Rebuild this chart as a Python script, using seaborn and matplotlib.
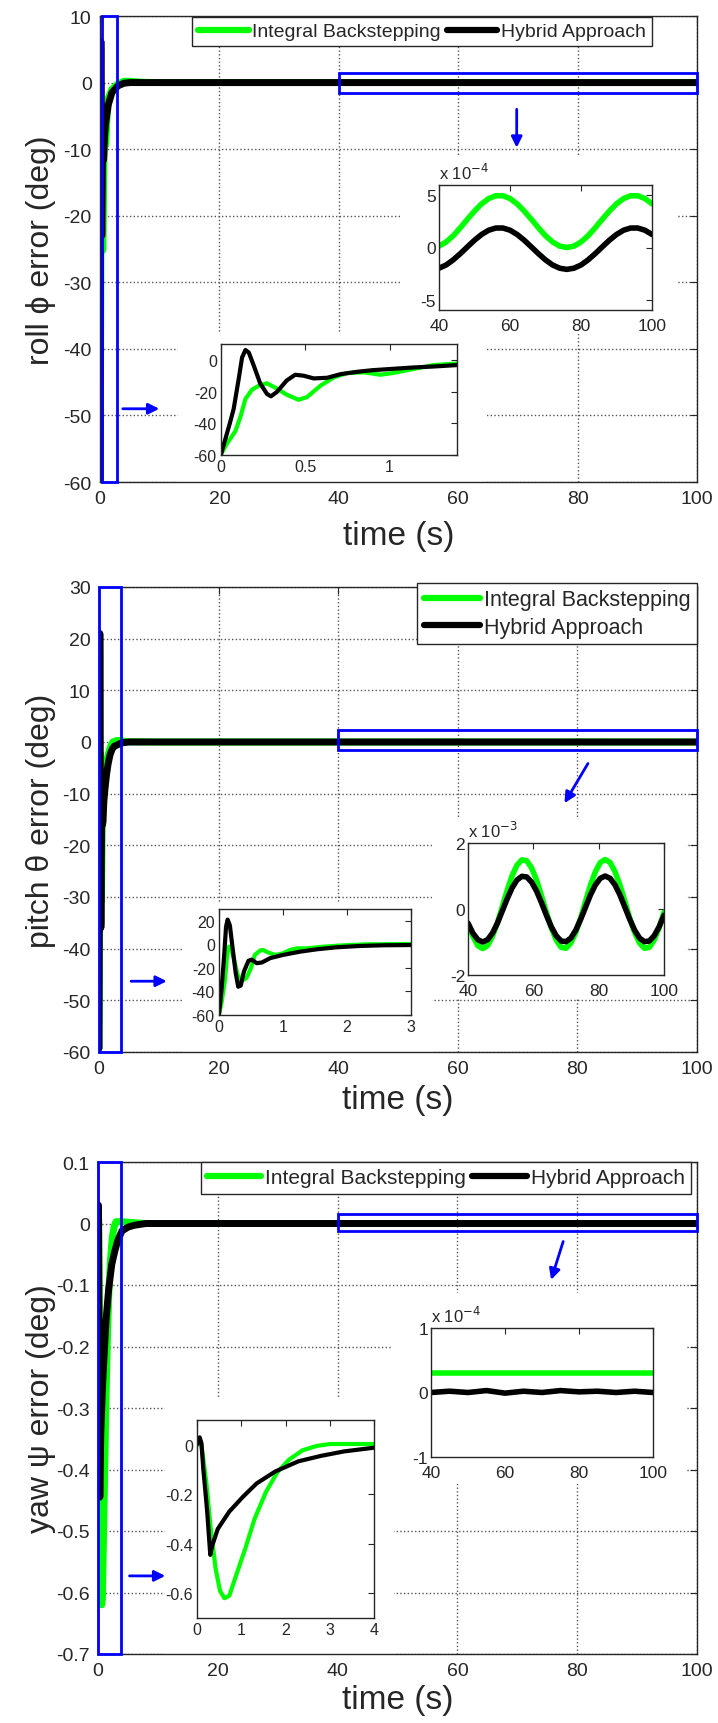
import numpy as np
import seaborn as sns
import matplotlib.pyplot as plt
from matplotlib.lines import Line2D
from matplotlib.patches import Rectangle
from matplotlib.ticker import FuncFormatter

# ---------------- data ----------------
labels = ["Integral Backstepping", "Hybrid Approach"]
colors = ["#00ff00", "black"]

# roll, transient (deg)
roll_ib_t = [0, 0.036, 0.085, 0.115, 0.145, 0.184, 0.233, 0.273, 0.33, 0.39, 0.46, 0.51,
             0.59, 0.67, 0.75, 0.85, 0.945, 1.02, 1.14, 1.26, 1.4]
roll_ib = [-59.6, -52.7, -45, -36, -24.6, -18.8, -15.8, -14.8, -18, -22, -25.2, -23.5,
           -16.3, -11, -8.3, -7.9, -9.4, -8.3, -5.8, -3.3, -2.3]
roll_hy_t = [0, 0.055, 0.075, 0.105, 0.125, 0.145, 0.165, 0.195, 0.233, 0.273, 0.296, 0.33,
             0.39, 0.44, 0.49, 0.55, 0.63, 0.71, 0.81, 0.9, 1.0, 1.14, 1.26, 1.4]
roll_hy = [-59.6, -39, -31, -12, 1.5, 6.2, 4.6, -3.8, -15, -21.5, -23, -20.4,
           -13, -9.4, -10, -11.7, -11.3, -9, -7.5, -6.5, -5.8, -4.8, -4.2, -3.3]
# roll, settling
roll_ib_settle_t = [2, 3, 4, 5, 7, 10, 20, 30]
roll_ib_settle = [-1.0, -0.2, 0.2, 0.2, 0.05, 0, 0, 0]
roll_hy_settle_t = [2, 3, 4, 5, 10, 20, 30]
roll_hy_settle = [-1.5, -0.5, -0.1, 0, 0, 0, 0]
# roll, 40-100 s (x 1e-4)
roll_tail_t = [40, 42, 44, 46, 48, 50, 52, 54, 56, 58, 60, 62, 64, 66, 68, 70,
               72, 74, 76, 78, 80, 82, 84, 86, 88, 90, 92, 94, 96, 98, 100]
roll_ib_tail = [0.13, 0.53, 1.13, 1.89, 2.71, 3.50, 4.19, 4.70, 4.97, 4.97, 4.70, 4.19, 3.50,
                2.71, 1.89, 1.13, 0.53, 0.13, 0.0, 0.13, 0.53, 1.13, 1.89, 2.71, 3.50,
                4.19, 4.70, 4.97, 4.97, 4.70, 4.19]
roll_hy_tail = [-1.99, -1.68, -1.19, -0.59, 0.06, 0.70, 1.25, 1.66, 1.87, 1.87, 1.66, 1.25,
                0.70, 0.06, -0.59, -1.19, -1.68, -1.99, -2.1, -1.99, -1.68, -1.19, -0.59,
                0.06, 0.70, 1.25, 1.66, 1.87, 1.87, 1.66, 1.25]

# pitch, transient (deg)
pitch_ib_t = [0, 0.04, 0.094, 0.13, 0.156, 0.19, 0.235, 0.29, 0.355, 0.43, 0.5, 0.56, 0.64,
              0.69, 0.77, 0.88, 1.0, 1.11, 1.22, 1.37, 1.63, 1.95, 2.31, 3.0]
pitch_ib = [-59.3, -49.5, -30, -7.5, -2, -3.4, -13, -25.7, -31, -28.5, -20, -9, -5.3,
            -4.8, -7, -9, -7.6, -4.8, -3.4, -3.4, -2, -0.8, 0, 0.3]
pitch_hy_t = [0, 0.04, 0.08, 0.11, 0.135, 0.17, 0.21, 0.26, 0.3, 0.34, 0.39, 0.46, 0.51,
              0.59, 0.67, 0.8, 1.0, 1.27, 1.53, 1.84, 2.2, 2.57, 3.0]
pitch_hy = [-59.3, -38, -10, 15, 21, 16, -2, -24, -36, -35, -23, -14, -13,
            -16, -15.4, -11.7, -9, -6.2, -4.2, -2.5, -1.4, -0.8, -0.6]
pitch_ib_settle_t = [3.5, 4, 5, 10, 20, 30]
pitch_ib_settle = [0.3, 0.2, 0.05, 0, 0, 0]
pitch_hy_settle_t = [3.5, 4, 5, 10, 20, 30]
pitch_hy_settle = [-0.3, -0.15, 0, 0, 0, 0]
# pitch, 40-100 s (x 1e-3)
pitch_tail_t = [40, 41.5, 43, 44.5, 46, 47.5, 49, 50.5, 52, 53.5, 55, 56.5, 58, 59.5, 61,
                62.5, 64, 65.5, 67, 68.5, 70, 71.5, 73, 74.5, 76, 77.5, 79, 80.5, 82, 83.5,
                85, 86.5, 88, 89.5, 91, 92.5, 94, 95.5, 97, 98.5, 100]
pitch_ib_tail = [-0.43, -0.83, -1.11, -1.2, -1.11, -0.83, -0.42, 0.07, 0.57, 1.01, 1.33, 1.49,
                 1.46, 1.24, 0.87, 0.40, -0.10, -0.57, -0.94, -1.16, -1.19, -1.03, -0.71,
                 -0.27, 0.24, 0.73, 1.13, 1.41, 1.5, 1.41, 1.13, 0.73, 0.24, -0.27, -0.71,
                 -1.03, -1.19, -1.16, -0.94, -0.57, -0.10]
pitch_hy_tail = [-0.43, -0.73, -0.93, -1.0, -0.93, -0.73, -0.43, -0.06, 0.31, 0.64, 0.88, 0.99,
                 0.97, 0.81, 0.54, 0.19, -0.19, -0.54, -0.81, -0.97, -0.99, -0.88, -0.64,
                 -0.31, 0.06, 0.43, 0.73, 0.93, 1.0, 0.93, 0.73, 0.43, 0.06, -0.31, -0.64,
                 -0.88, -0.99, -0.97, -0.81, -0.54, -0.19]

# yaw, transient (deg)
yaw_ib_t = [0, 0.06, 0.1, 0.21, 0.31, 0.42, 0.52, 0.62, 0.73, 0.88, 1.09, 1.3, 1.56, 1.82,
            2.08, 2.39, 2.7, 3.0, 4.0]
yaw_ib = [0, 0.022, 0, -0.15, -0.34, -0.5, -0.59, -0.62, -0.61, -0.53, -0.42, -0.30, -0.19,
          -0.11, -0.06, -0.022, -0.005, 0.003, 0.003]
yaw_hy_t = [0, 0.06, 0.1, 0.145, 0.19, 0.23, 0.27, 0.3, 0.34, 0.47, 0.73, 1.04, 1.35, 1.77,
            2.29, 2.8, 3.32, 4.0]
yaw_hy = [0, 0.03, 0.007, -0.104, -0.19, -0.27, -0.37, -0.445, -0.41, -0.34, -0.27, -0.21,
          -0.156, -0.108, -0.067, -0.045, -0.027, -0.012]
yaw_ib_settle_t = [5, 8, 10, 20, 30]
yaw_ib_settle = [0.002, 0, 0, 0, 0]
yaw_hy_settle_t = [5, 6, 8, 10, 20, 30]
yaw_hy_settle = [-0.006, -0.003, 0, 0, 0, 0]
# yaw, 40-100 s (x 1e-4)
yaw_tail_t = [40, 45, 50, 55, 60, 65, 70, 75, 80, 85, 90, 95, 100]
yaw_ib_tail = [0.3, 0.3, 0.3, 0.3, 0.3, 0.3, 0.3, 0.3, 0.3, 0.3, 0.3, 0.3, 0.3]
yaw_hy_tail = [0.0, 0.02, 0.0, 0.03, -0.01, 0.02, 0.0, 0.03, 0.01, 0.02, 0.0, 0.02, 0.0]

# ---------------- style ----------------
sns.set_style("white")
plt.rcParams["font.family"] = ["Liberation Sans", "DejaVu Sans"]
plt.rcParams["axes.unicode_minus"] = False
plt.rcParams["axes.axisbelow"] = True

W, H = 718, 1724
fig = plt.figure(figsize=(W / 100, H / 100), dpi=100)


def fbox(l, t, r, b):
    return [l / W, 1 - b / H, (r - l) / W, (b - t) / H]


def fmt(v, pos):
    if abs(v) < 1e-9:
        v = 0.0
    return f"{v:g}"


gfmt = FuncFormatter(fmt)


def style_axes(ax, size):
    for s in ax.spines.values():
        s.set_color("#262626")
        s.set_linewidth(1)
        s.set_visible(True)
    ax.tick_params(direction="in", top=True, right=True, length=5, width=0.8,
                   labelsize=size, colors="#262626", pad=5)
    ax.xaxis.set_major_formatter(gfmt)
    ax.yaxis.set_major_formatter(gfmt)


panels = [
    dict(fast=[(roll_ib_t, roll_ib), (roll_hy_t, roll_hy)],
         settle=[(roll_ib_settle_t, roll_ib_settle), (roll_hy_settle_t, roll_hy_settle)],
         tail=(roll_tail_t, [roll_ib_tail, roll_hy_tail]), scale=1e-4, exp="-4",
         box=(100, 17, 697, 483), ylim=(-60, 10), yticks=np.arange(-60, 11, 10),
         ylabel="roll ϕ error (deg)", xl_off=53,
         zoom_box=(221, 345, 457, 456), zoom_xlim=(0, 1.4), zoom_ylim=(-60, 10),
         zoom_xt=[0, 0.5, 1], zoom_yt=[-60, -40, -20, 0],
         ss_box=(439, 186, 652, 311), ss_ylim=(-6, 6), ss_yt=[-5, 0, 5],
         patches=[(178, 333, 487, 483), (400, 157, 678, 335)],
         rect1=(0.3, 2.85), rect2=(-1.6, 1.5),
         arrows=[((69.8, -3.6), (69.8, -10.2)), ((3.35, -49), (10.4, -49))],
         leg=dict(ncol=2, anchor=(652, 18), size=14, spacing=0.5)),
    dict(fast=[(pitch_ib_t, pitch_ib), (pitch_hy_t, pitch_hy)],
         settle=[(pitch_ib_settle_t, pitch_ib_settle), (pitch_hy_settle_t, pitch_hy_settle)],
         tail=(pitch_tail_t, [pitch_ib_tail, pitch_hy_tail]), scale=1e-3, exp="-3",
         box=(99, 588, 697, 1053), ylim=(-60, 30), yticks=np.arange(-60, 31, 10),
         ylabel="pitch θ error (deg)", xl_off=48,
         zoom_box=(219, 910, 411, 1016), zoom_xlim=(0, 3), zoom_ylim=(-60, 30),
         zoom_xt=[0, 1, 2, 3], zoom_yt=[-60, -40, -20, 0, 20],
         ss_box=(468, 844, 664, 976), ss_ylim=(-2, 2), ss_yt=[-2, 0, 2],
         patches=[(183, 903, 432, 1053), (432, 818, 686, 1000)],
         rect1=(0.0, 3.6), rect2=(-1.55, 2.4),
         arrows=[((82, -3.7), (77.6, -12.3)), ((4.9, -46.3), (11.8, -46.3))],
         leg=dict(ncol=1, anchor=(697, 584), size=15.5, spacing=0.3)),
    dict(fast=[(yaw_ib_t, yaw_ib), (yaw_hy_t, yaw_hy)],
         settle=[(yaw_ib_settle_t, yaw_ib_settle), (yaw_hy_settle_t, yaw_hy_settle)],
         tail=(yaw_tail_t, [yaw_ib_tail, yaw_hy_tail]), scale=1e-4, exp="-4",
         box=(98, 1163, 697, 1655), ylim=(-0.7, 0.1),
         yticks=[-0.7, -0.6, -0.5, -0.4, -0.3, -0.2, -0.1, 0, 0.1],
         ylabel="yaw ψ error (deg)", xl_off=46,
         zoom_box=(197, 1421, 374, 1619), zoom_xlim=(0, 4), zoom_ylim=(-0.7, 0.1),
         zoom_xt=[0, 1, 2, 3, 4], zoom_yt=[-0.6, -0.4, -0.2, 0],
         ss_box=(431, 1329, 653, 1458), ss_ylim=(-1, 1), ss_yt=[-1, 0, 1],
         patches=[(165, 1399, 394, 1655), (391, 1294, 686, 1485)],
         rect1=(0.0, 3.9), rect2=(-0.0123, 0.0155),
         arrows=[((77.8, -0.025), (75.5, -0.096)), ((4.8, -0.573), (11.7, -0.573))],
         leg=dict(ncol=2, anchor=(691, 1163), size=15, spacing=0.5)),
]

for p in panels:
    # full series = transient + settling + steady tail
    series = []
    tail_t, tail_vals = p["tail"]
    for k in range(2):
        t = list(p["fast"][k][0]) + list(p["settle"][k][0]) + list(tail_t)
        v = list(p["fast"][k][1]) + list(p["settle"][k][1]) + [x * p["scale"] for x in tail_vals[k]]
        series.append((t, v))

    ax = fig.add_axes(fbox(*p["box"]))
    for k in range(2):
        sns.lineplot(x=series[k][0], y=series[k][1], ax=ax, color=colors[k], lw=5,
                     errorbar=None, zorder=2)
    ax.set_xlim(0, 100)
    ax.set_ylim(*p["ylim"])
    ax.set_xticks(np.arange(0, 101, 20))
    ax.set_yticks(p["yticks"])
    style_axes(ax, 14)
    ax.tick_params(pad=6)
    ax.grid(True, ls=":", color="#555555", lw=1)

    # white areas behind the insets hide the grid
    for (l, t, r, b) in p["patches"]:
        ax.add_patch(Rectangle((l / W, 1 - b / H), (r - l) / W, (b - t) / H,
                               transform=fig.transFigure, facecolor="white",
                               edgecolor="none", zorder=1))

    # blue zoom boxes
    y0, y1 = p["ylim"]
    x0, x1 = p["rect1"]
    ax.add_patch(Rectangle((x0, y0), x1 - x0, y1 - y0, fill=False, edgecolor="blue",
                           lw=2, zorder=6, clip_on=False))
    r0, r1 = p["rect2"]
    ax.add_patch(Rectangle((40, r0), 60, r1 - r0, fill=False, edgecolor="blue",
                           lw=2, zorder=6, clip_on=False))
    for (a, b) in p["arrows"]:
        ax.annotate("", xy=b, xytext=a,
                    arrowprops=dict(arrowstyle="-|>", color="blue", lw=2, mutation_scale=16))

    ax.set_xlabel("time (s)", fontsize=24)
    ax.xaxis.set_label_coords(0.5, -p["xl_off"] / (p["box"][3] - p["box"][1]))
    ax.xaxis.label.set_va("center")
    ax.set_ylabel(p["ylabel"], fontsize=23)
    ax.yaxis.set_label_coords(-(p["box"][0] - 41) / (p["box"][2] - p["box"][0]), 0.5)
    ax.yaxis.label.set_va("center")

    handles = [Line2D([0], [0], color=c, lw=4.5) for c in colors]
    ax_, ay_ = p["leg"]["anchor"]
    leg = ax.legend(handles, labels, ncol=p["leg"]["ncol"], loc="upper right",
                    bbox_to_anchor=(ax_ / W, 1 - ay_ / H), bbox_transform=fig.transFigure,
                    fontsize=p["leg"]["size"], frameon=True, fancybox=False, framealpha=1,
                    edgecolor="#262626", handlelength=2.6, handletextpad=0.2,
                    columnspacing=0.3, borderpad=0.3, borderaxespad=0,
                    labelspacing=p["leg"]["spacing"])
    leg.get_frame().set_linewidth(1)

    # inset: start of the response
    zi = fig.add_axes(fbox(*p["zoom_box"]))
    for k in range(2):
        sns.lineplot(x=series[k][0], y=series[k][1], ax=zi, color=colors[k], lw=3,
                     errorbar=None)
    zi.set_xlim(*p["zoom_xlim"])
    zi.set_ylim(*p["zoom_ylim"])
    zi.set_xticks(p["zoom_xt"])
    zi.set_yticks(p["zoom_yt"])
    zi.set_facecolor("white")
    style_axes(zi, 11.5)
    zi.tick_params(pad=3, length=4)

    # inset: steady state, 40-100 s
    si = fig.add_axes(fbox(*p["ss_box"]))
    for k in range(2):
        sns.lineplot(x=tail_t, y=tail_vals[k], ax=si, color=colors[k], lw=4,
                     errorbar=None)
    si.set_xlim(40, 100)
    si.set_ylim(*p["ss_ylim"])
    si.set_xticks([40, 60, 80, 100])
    si.set_yticks(p["ss_yt"])
    si.set_facecolor("white")
    style_axes(si, 12.5)
    si.tick_params(length=4)
    si.tick_params(axis="x", pad=6)
    si.tick_params(axis="y", pad=2)
    si.text(0, 1.02, "x 10$^{%s}$" % p["exp"], transform=si.transAxes, fontsize=12,
            va="bottom", ha="left", color="#262626")

fig.savefig("out.png", dpi=100)
